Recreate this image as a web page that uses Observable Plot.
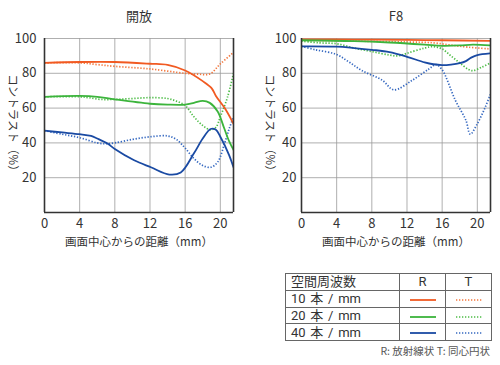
<!DOCTYPE html>
<html><head><meta charset="utf-8">
<script src="https://cdn.jsdelivr.net/npm/d3@7"></script>
<script src="https://cdn.jsdelivr.net/npm/@observablehq/plot@0.6"></script>
<style>
body{margin:0;background:#fff;font-family:"Noto Sans CJK JP","Noto Sans",sans-serif;color:#333}
#wrap{position:relative;width:500px;height:365px;overflow:hidden}
#wrap svg.plot{position:absolute;top:0}
table{position:absolute;left:285px;top:273px;border-collapse:collapse;font-size:13px;color:#333;font-family:Roboto,"Noto Sans CJK JP",sans-serif}
td{border:1px solid #666;height:15.8px;padding:0;line-height:15px;white-space:nowrap}
td.lab{width:108px;padding-left:5px;word-spacing:1.5px}
td.c{width:45px;text-align:center}
td.c svg{display:inline-block;vertical-align:middle}
#note{position:absolute;right:10px;top:343px;font-size:10.5px;color:#555;white-space:nowrap}
</style></head>
<body><div id="wrap"></div>
<script>
// ---- data ----
const titles = ["開放", "F8"];
const xTicks = [0, 4, 8, 12, 16, 20];
const yTicks = [20, 40, 60, 80, 100];
const xLabel = "画面中心からの距離（mm）";
const yLabel = "コントラスト（%）";
const freqLabels = ["10 本 / mm", "20 本 / mm", "40 本 / mm"];
const colors = ["#f15a22", "#3cb43c", "#1a4aa3"];
const colorsT = ["#f3773d", "#4cbc46", "#3568c0"];

// 開放 (open aperture)
const open_10R = [[0,86],[4,86.5],[8,86.5],[12,85.5],[14,84.8],[16,81.6],[18,75.5],[19,71.5],[19.5,67],[20.5,60],[21.5,51]];
const open_10T = [[0,86],[4,86],[6,85],[8,84],[12,82.5],[16,80],[17.5,79.5],[18.8,79.6],[20,85.4],[21.5,92]];
const open_20R = [[0,66.5],[4,67],[6,66.5],[8,65],[12,62.5],[14,62],[16,62],[17,63],[18,64.2],[18.8,63],[19.7,58],[20.4,49],[21,41],[21.5,36]];
const open_20T = [[0,66.5],[4,66.5],[5,66],[6.4,65],[8,65],[10,65.5],[12,66],[14,65.5],[15,64],[16,61.5],[17,55],[18,50],[18.9,47.5],[19.5,49],[20,55],[20.8,66],[21.5,80]];
const open_40R = [[0,47],[2,46],[4,45],[5.3,44],[6,42.5],[7.2,39.5],[8,36.5],[10.2,30],[12.1,26],[14.2,21.8],[15.5,23],[17,34],[18,42.5],[18.9,48],[19.5,47.5],[20,43.5],[21,33],[21.5,26]];
const open_40T = [[0,47],[2,45],[4,43],[6,40],[7,39.5],[8,40],[10,42],[12,43.5],[14,44],[15,42],[16,37],[17,31],[18,27],[18.9,26],[19.7,29],[20.5,40],[21,48],[21.5,55]];

// F8
const f8_10R = [[0,99.5],[6,99.4],[12,99.2],[16,99],[21.5,98.6]];
const f8_10T = [[0,99],[6,98.5],[12,98],[15,97.5],[17,96.2],[19,95],[21.5,94]];
const f8_20R = [[0,99],[6,98.5],[10,97.7],[14,96.5],[16,95.8],[18,96],[19.5,96.5],[21.5,96]];
const f8_20T = [[0,98.5],[2,97.5],[4,97],[6,94.5],[8,92.5],[10,90.5],[11,90],[12,91.5],[14,94.5],[15,95.3],[16,94],[17,90],[18,86],[19,82.2],[19.5,81.5],[20.5,83.5],[21.5,86]];
const f8_40R = [[0,95.5],[4,95.3],[6,94.5],[8,93.5],[10,92.2],[12,89.5],[14,86.3],[15,85.2],[16,84.7],[17,85],[18,85.8],[18.7,87],[19.3,89],[20,90.5],[21.5,91.5]];
const f8_40T = [[0,95.5],[1.6,93.5],[3.9,91],[5.4,86.5],[6.9,81.5],[9.2,76],[10.5,70.5],[12.6,76],[14.5,82.5],[15.3,85],[16,82],[17.5,64.5],[18.7,53],[19.2,45],[20,51],[20.9,60.5],[21.5,68]];

const panels = [
  {title: titles[0], left: 0, mL: 44, mR: 17, pad: 8, R: [open_10R, open_20R, open_40R], T: [open_10T, open_20T, open_40T]},
  {title: titles[1], left: 250, mL: 51, mR: 10, pad: 5, R: [f8_10R, f8_20R, f8_40R], T: [f8_10T, f8_20T, f8_40T]}
];

const wrap = document.getElementById("wrap");
const font = '"Noto Sans CJK JP","Noto Sans",sans-serif';
const dash = "1.3,1.7";

for (const p of panels) {
  const marks = [
    Plot.gridX(xTicks.slice(1), {stroke: "#9a9a9a", strokeOpacity: 1, strokeWidth: 0.8}),
    Plot.gridY(yTicks, {stroke: "#9a9a9a", strokeOpacity: 1, strokeWidth: 0.8}),
    Plot.axisX(xTicks, {tickSize: 0, tickPadding: 6, fontSize: 13, label: null, fill: "#333"}),
    Plot.axisY(yTicks, {tickSize: 0, tickPadding: p.pad, fontSize: 13, label: null, fill: "#333"})
  ];
  p.T.forEach((s, i) => marks.push(Plot.line(s, {x: d => d[0], y: d => d[1], stroke: colorsT[i], strokeWidth: 1.7, strokeDasharray: dash, strokeLinecap: "butt", curve: "catmull-rom", clip: true})));
  p.R.forEach((s, i) => marks.push(Plot.line(s, {x: d => d[0], y: d => d[1], stroke: colors[i], strokeWidth: 1.8, curve: "catmull-rom", clip: true})));
  marks.push(
    Plot.ruleX([0, 21.5], {stroke: "#333", strokeWidth: 1.6}),
    Plot.ruleY([0], {stroke: "#333", strokeWidth: 1.6}),
    Plot.text([p.title], {frameAnchor: "top", dy: -27, fontSize: 13, fill: "#333"}),
    Plot.text([xLabel], {frameAnchor: "bottom", dy: 33, fontSize: 11.5, fill: "#333"}),
    Plot.text([yLabel], {frameAnchor: "left", dx: -32, rotate: 90, textAnchor: "middle", fontSize: 11.5, fill: "#333"})
  );
  const svg = Plot.plot({
    width: 250, height: 255,
    marginLeft: p.mL, marginRight: p.mR, marginTop: 38, marginBottom: 43,
    x: {domain: [0, 21.5]},
    y: {domain: [0, 100]},
    style: {fontFamily: font, background: "transparent"},
    marks
  });
  svg.classList.add("plot");
  svg.style.left = p.left + "px";
  wrap.appendChild(svg);
}

// legend table
const tbl = document.createElement("table");
const sample = (c, w, da) => `<svg width="26" height="4"><line x1="0" x2="26" y1="2" y2="2" stroke="${c}" stroke-width="${w}"${da ? ` stroke-dasharray="${da}"` : ""}/></svg>`;
let html = '<tr><td class="lab">空間周波数</td><td class="c">R</td><td class="c">T</td></tr>';
freqLabels.forEach((f, i) => {
  html += `<tr><td class="lab">${f}</td><td class="c">${sample(colors[i], 1.8)}</td><td class="c">${sample(colorsT[i], 1.5, dash)}</td></tr>`;
});
tbl.innerHTML = html;
wrap.appendChild(tbl);
const note = document.createElement("div");
note.id = "note";
note.textContent = "R: 放射線状  T: 同心円状";
wrap.appendChild(note);
</script></body></html>
